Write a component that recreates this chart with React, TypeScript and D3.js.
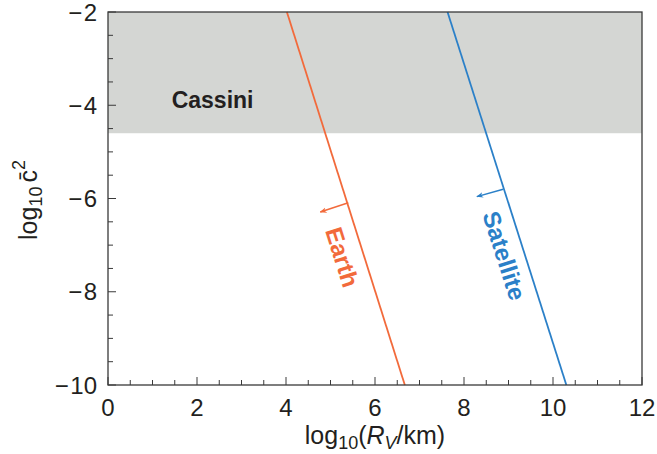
import React from "react";
import * as d3 from "d3";

// values
const xTicks = [0, 2, 4, 6, 8, 10, 12];
const yTicks = [-10, -8, -6, -4, -2];
const xMinor = d3.range(0, 12.01, 0.5);
const yMinor = d3.range(-10, -1.99, 0.5);
const cassiniBound = -4.6;

const earthLine: [number, number][] = [[4.02, -2], [6.67, -10]];
const satLine: [number, number][] = [[7.63, -2], [10.3, -10]];
const earthArrow: [number, number][] = [[5.4, -6.09], [4.77, -6.29]];
const satArrow: [number, number][] = [[8.88, -5.8], [8.29, -5.96]];
const earthLabel = { text: "Earth", x: 5.22, y: -7.27 };
const satLabel = { text: "Satellite", x: 8.86, y: -7.24 };
const cassiniLabel = { text: "Cassini", x: 2.35, y: -3.92 };

const W = 657;
const H = 454;
const margin = { top: 12, right: 15, bottom: 69, left: 108 };

const ORANGE = "#F26A3B";
const BLUE = "#2B80C8";
const INK = "#231F20";
const FONT = "'Liberation Sans', Arial, Helvetica, sans-serif";

export default function App() {
  const x = d3.scaleLinear().domain([0, 12]).range([margin.left, W - margin.right]);
  const y = d3.scaleLinear().domain([-10, -2]).range([H - margin.bottom, margin.top]);
  const line = d3.line<[number, number]>().x((d) => x(d[0])).y((d) => y(d[1]));

  const angleOf = (l: [number, number][]) =>
    (Math.atan2(y(l[1][1]) - y(l[0][1]), x(l[1][0]) - x(l[0][0])) * 180) / Math.PI;

  const x0 = x(0), x1 = x(12), yb = y(-10), yt = y(-2);

  return (
    <svg width={W} height={H} style={{ position: "absolute", left: 0, top: 0, background: "#fff" }} fontFamily={FONT}>
      <defs>
        {[["arrE", ORANGE], ["arrS", BLUE]].map(([id, c]) => (
          <marker key={id} id={id} viewBox="0 0 10 10" refX="9" refY="5" markerWidth="7" markerHeight="7" orient="auto" markerUnits="userSpaceOnUse">
            <path d="M0,1 L10,5 L0,9 L3,5 Z" fill={c} />
          </marker>
        ))}
      </defs>

      <rect x={x0} y={yt} width={x1 - x0} height={y(cassiniBound) - yt} fill="#D4D6D3" />
      <text x={x(cassiniLabel.x)} y={y(cassiniLabel.y)} fontSize={23} fontWeight="bold" fill={INK} textAnchor="middle" dominantBaseline="middle">
        {cassiniLabel.text}
      </text>

      <path d={line(earthLine) || ""} stroke={ORANGE} strokeWidth={1.8} fill="none" />
      <path d={line(satLine) || ""} stroke={BLUE} strokeWidth={1.8} fill="none" />
      <path d={line(earthArrow) || ""} stroke={ORANGE} strokeWidth={1.5} fill="none" markerEnd="url(#arrE)" />
      <path d={line(satArrow) || ""} stroke={BLUE} strokeWidth={1.5} fill="none" markerEnd="url(#arrS)" />

      {[
        [earthLabel, earthLine, ORANGE],
        [satLabel, satLine, BLUE],
      ].map(([lab, l, c]: any) => (
        <text
          key={lab.text}
          transform={`translate(${x(lab.x)},${y(lab.y)}) rotate(${angleOf(l)})`}
          fontSize={24}
          fontWeight="bold"
          fill={c}
          textAnchor="middle"
          dominantBaseline="middle"
        >
          {lab.text}
        </text>
      ))}

      {/* frame */}
      <rect x={x0} y={yt} width={x1 - x0} height={yb - yt} fill="none" stroke="#3a3a3a" strokeWidth={1.3} />

      {/* ticks */}
      {xMinor.map((v) => {
        const major = Math.abs(v % 2) < 1e-6;
        return <line key={"xm" + v} x1={x(v)} x2={x(v)} y1={yb} y2={yb - (major ? 8 : 5)} stroke="#3a3a3a" strokeWidth={1} />;
      })}
      {yMinor.map((v) => {
        const major = Math.abs(v % 2) < 1e-6;
        return <line key={"ym" + v} x1={x0} x2={x0 + (major ? 8 : 5)} y1={y(v)} y2={y(v)} stroke="#3a3a3a" strokeWidth={1} />;
      })}

      {xTicks.map((v) => (
        <text key={"xt" + v} x={x(v)} y={yb + 31} fontSize={24} fill={INK} textAnchor="middle">
          {v}
        </text>
      ))}
      {yTicks.map((v) => (
        <text key={"yt" + v} x={x0 - 11} y={y(v) + 8.5} fontSize={24} fill={INK} textAnchor="end">
          <tspan dx={0}>{"\u2212"}</tspan>
          <tspan dx={1.5}>{Math.abs(v)}</tspan>
        </text>
      ))}

      {/* x title */}
      <text x={(x0 + x1) / 2} y={444} fontSize={25} fill={INK} textAnchor="middle">
        log
        <tspan fontSize={18} dy={5}>10</tspan>
        <tspan dy={-5}>(</tspan>
        <tspan fontStyle="italic">R</tspan>
        <tspan fontSize={18} fontStyle="italic" dy={5}>V</tspan>
        <tspan dy={-5}>/km)</tspan>
      </text>

      {/* y title */}
      <text transform={`translate(37,200) rotate(-90)`} fontSize={25} fill={INK} textAnchor="middle">
        log
        <tspan fontSize={18} dy={5}>10</tspan>
        <tspan dy={-5} dx={4}>{"c\u0304"}</tspan>
        <tspan fontSize={18} dy={-12}>2</tspan>
      </text>
    </svg>
  );
}
